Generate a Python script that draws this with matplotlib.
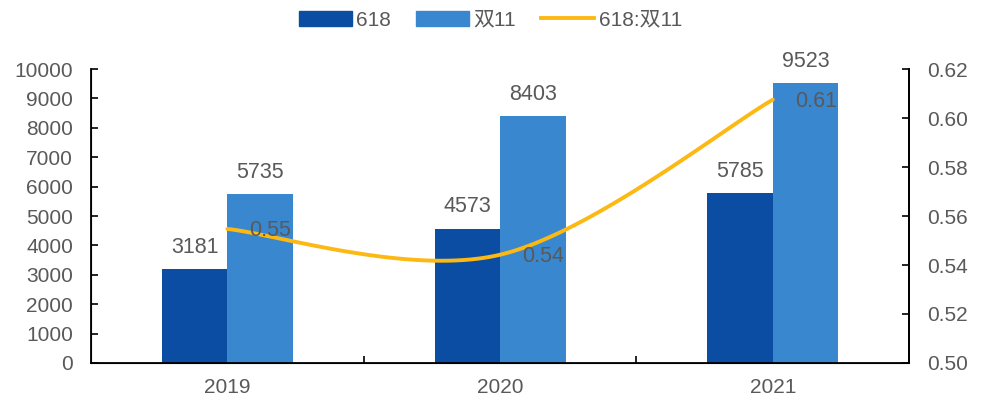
import numpy as np
import matplotlib
matplotlib.use("Agg")
import matplotlib.pyplot as plt
from matplotlib.patches import Patch
from matplotlib.lines import Line2D

plt.rcParams['font.family'] = ['Liberation Sans', 'Noto Sans CJK SC', 'DejaVu Sans']

years = ["2019", "2020", "2021"]
sales_618 = [3181, 4573, 5785]
sales_d11 = [5735, 8403, 9523]
ratio = [0.5547, 0.5442, 0.6075]
ratio_labels = ["0.55", "0.54", "0.61"]

c_dark = "#0B4DA2"
c_light = "#3987CF"
c_line = "#FDB913"
c_text = "#595959"


def smooth(xs, ys, n=60):
    # Bezier segments with catmull-rom style control points
    pts = np.column_stack([xs, ys]).astype(float)
    out = []
    for i in range(len(pts) - 1):
        p0 = pts[max(i - 1, 0)]
        p1 = pts[i]
        p2 = pts[i + 1]
        p3 = pts[min(i + 2, len(pts) - 1)]
        c1 = p1 + (p2 - p0) / 6
        c2 = p2 - (p3 - p1) / 6
        t = np.linspace(0, 1, n)[:, None]
        seg = ((1 - t) ** 3) * p1 + 3 * ((1 - t) ** 2) * t * c1 \
            + 3 * (1 - t) * t ** 2 * c2 + t ** 3 * p2
        out.append(seg if i == 0 else seg[1:])
    out = np.vstack(out)
    return out[:, 0], out[:, 1]


fig = plt.figure(figsize=(9.81, 4.01), dpi=100)
ax = fig.add_axes([0.0928, 0.0948, 0.834, 0.733])
x = np.arange(len(years))
w = 0.24

b1 = ax.bar(x - w / 2, sales_618, w, color=c_dark, zorder=2)
b2 = ax.bar(x + w / 2, sales_d11, w, color=c_light, zorder=2)
for rects, vals in ((b1, sales_618), (b2, sales_d11)):
    for r, v in zip(rects, vals):
        ax.annotate(str(v), (r.get_x() + r.get_width() / 2, v),
                    xytext=(0, 8), textcoords="offset points",
                    ha="center", va="bottom", fontsize=15.5, color=c_text)

ax.set_xlim(-0.5, 2.5)
ax.set_ylim(0, 10000)
ax.set_yticks(range(0, 10001, 1000))
ax.set_xticks(x)
ax.set_xticklabels(years)
ax.set_xticks([0.5, 1.5], minor=True)
ax.tick_params(axis="x", which="major", length=0, pad=11)
ax.tick_params(axis="x", which="minor", direction="in", length=5, width=1.2)
ax.tick_params(axis="y", direction="in", length=5, width=1.2, pad=13)
ax.tick_params(labelsize=15, labelcolor=c_text)
ax.spines["top"].set_visible(False)
for s in ("left", "right", "bottom"):
    ax.spines[s].set_linewidth(1.3)

ax2 = ax.twinx()
ax2.set_ylim(0.50, 0.62)
ax2.set_yticks(np.round(np.arange(0.50, 0.621, 0.02), 2))
ax2.set_yticklabels([f"{v:.2f}" for v in np.arange(0.50, 0.621, 0.02)])
ax2.tick_params(axis="y", direction="in", length=5, width=1.2, pad=13,
                labelsize=15, labelcolor=c_text)
ax2.spines["top"].set_visible(False)
ax2.spines["right"].set_linewidth(1.3)

sx, sy = smooth(x, ratio)
ax2.plot(sx, sy, color=c_line, lw=2.8, solid_capstyle="round", zorder=3)
for xi, v, lab in zip(x, ratio, ratio_labels):
    ax2.annotate(lab, (xi, v), xytext=(16, -1), textcoords="offset points",
                 ha="left", va="center", fontsize=15.5, color=c_text)

handles = [Patch(color=c_dark), Patch(color=c_light),
           Line2D([0], [0], color=c_line, lw=2.8)]
fig.legend(handles, ["618", "双11", "618:双11"], loc="upper center",
           bbox_to_anchor=(0.5, 1.02), ncol=3, frameon=False, fontsize=15,
           labelcolor=c_text, handlelength=2.55, handleheight=0.7,
           columnspacing=1.2, handletextpad=0.2)

fig.savefig("out.png", dpi=100)
